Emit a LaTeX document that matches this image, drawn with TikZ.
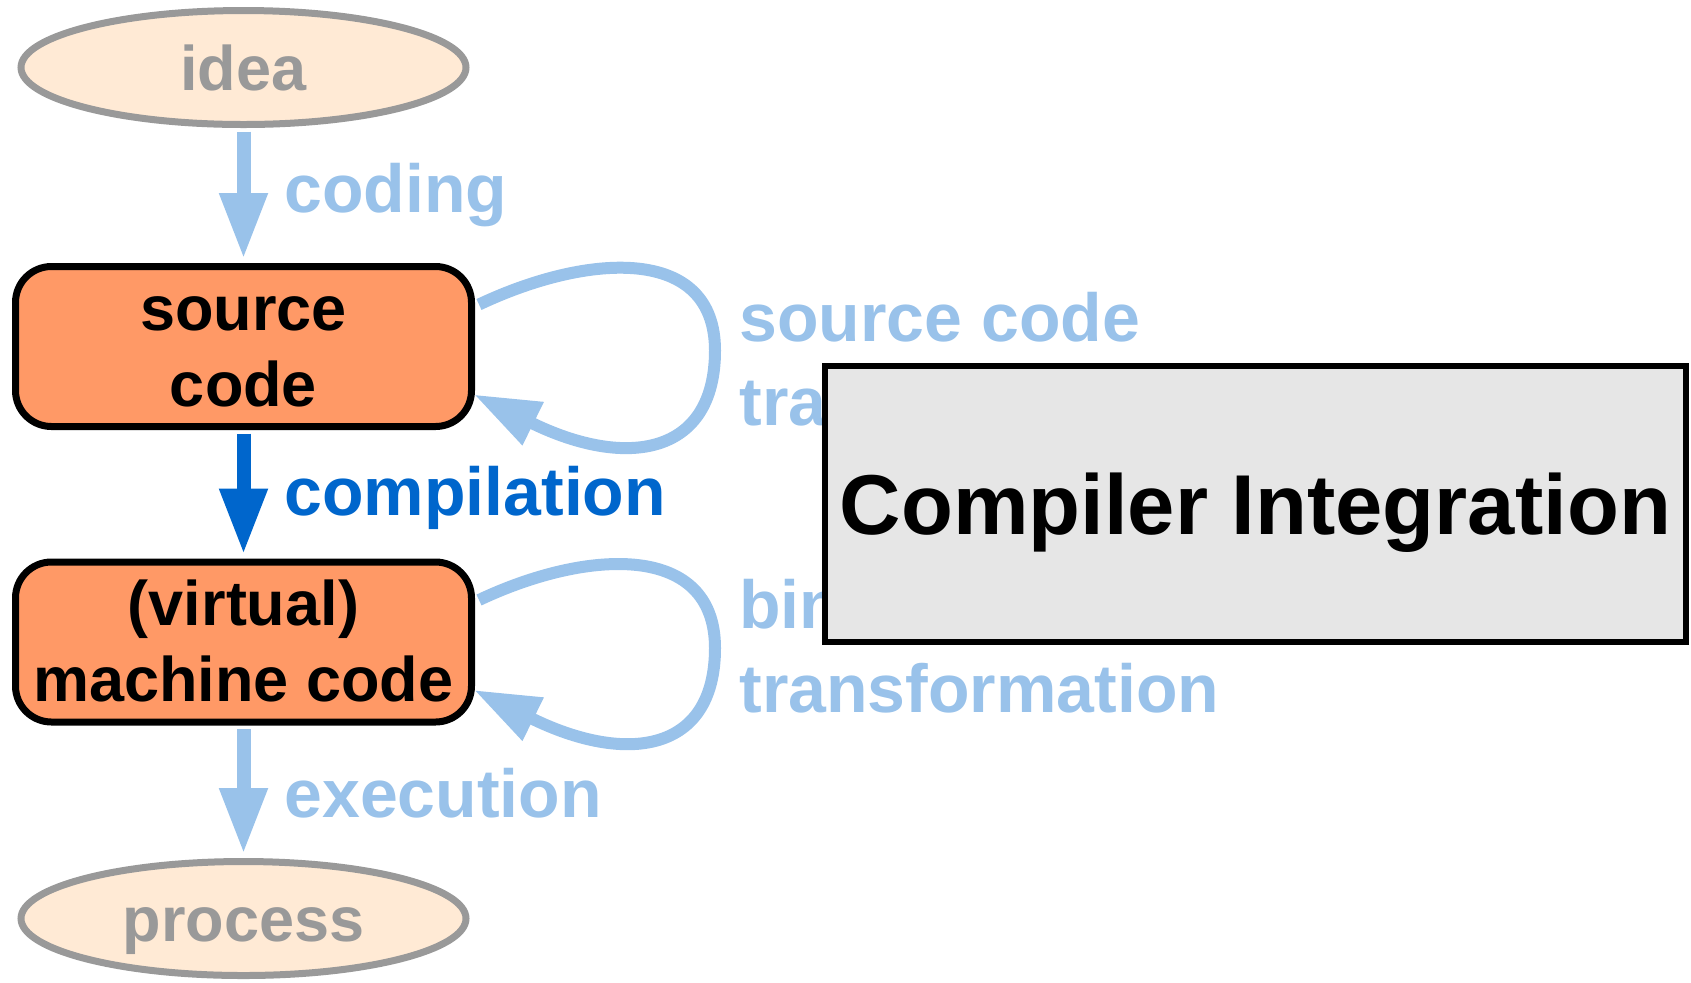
\documentclass[tikz,border=0pt]{standalone}
\usepackage{fontspec}
\setmainfont{Liberation Sans}
\usetikzlibrary{arrows.meta,shapes.geometric,calc}

\definecolor{flowlight}{RGB}{153,194,234}
\definecolor{flowdark}{RGB}{0,102,204}
\definecolor{codefill}{RGB}{255,153,102}
\definecolor{endfill}{RGB}{255,234,213}
\definecolor{endgray}{RGB}{153,153,153}
\definecolor{panelgray}{RGB}{230,230,230}

\tikzset{
  endpoint/.style={ellipse, draw=endgray, fill=endfill, line width=3.5pt,
    minimum width=222.5pt, minimum height=57pt, inner sep=0pt,
    text=endgray, font=\fontsize{31.5}{38}\selectfont\bfseries,
    text height=23pt, text depth=0pt},
  codebox/.style={rectangle, rounded corners=18pt, draw=black, fill=codefill,
    line width=3.5pt, minimum width=228pt, minimum height=80pt, inner sep=0pt,
    font=\fontsize{31.5}{38}\selectfont\bfseries,
    text height=59.5pt, text depth=0pt},
  panel/.style={rectangle, draw=black, fill=panelgray, line width=3pt,
    minimum width=430.5pt, minimum height=138pt, inner sep=0pt,
    font=\fontsize{42.5}{50}\selectfont\bfseries,
    text height=30.4pt, text depth=0pt},
  flowlabel/.style={inner sep=0pt, anchor=base west,
    font=\fontsize{34}{42}\selectfont\bfseries},
  tipshape/.style={-{Triangle[width=22.5pt,length=33pt]}},
  lightarrow/.style={tipshape, draw=flowlight, line width=7pt,
    shorten >=2pt, shorten <=1.75pt},
  darkarrow/.style={tipshape, draw=flowdark, line width=7pt,
    shorten >=2pt, shorten <=1.75pt},
  looparrow/.style={tipshape, draw=flowlight, line width=6pt},
}

\begin{document}
\begin{tikzpicture}[x=0.5pt,y=-0.5pt]
  \useasboundingbox (0,0) rectangle (1691,982);

  % main chain
  \node[endpoint] (idea) at (243.5,67.5) {idea};
  \node[codebox] (sc) at (243.5,346.5)
    {\begin{tabular}[b]{@{}c@{}}source\\code\end{tabular}};
  \node[codebox] (mc) at (243.5,642)
    {\begin{tabular}[b]{@{}c@{}}(virtual)\\machine code\end{tabular}};
  \node[endpoint] (proc) at (243.5,918.5) {process};

  \draw[lightarrow] (idea.south) -- (sc.north);
  \draw[darkarrow] (sc.south) -- (mc.north);
  \draw[lightarrow] (mc.south) -- (proc.north);

  % self loops
  \draw[looparrow] ($(sc.east)+(4,-42)$)
    .. controls +(110,-52) and +(0,-105) .. ($(sc.east)+(240,4)$)
    .. controls +(0,105) and +(152,75) .. ($(sc.east)+(-1,48)$);
  \draw[looparrow] ($(mc.east)+(4,-42)$)
    .. controls +(110,-52) and +(0,-105) .. ($(mc.east)+(240,6)$)
    .. controls +(0,105) and +(152,75) .. ($(mc.east)+(-1,48)$);

  % edge labels
  \node[flowlabel, text=flowlight] (lcoding) at (284,212) {coding};
  \node[flowlabel, text=flowdark] (lcomp) at (284,515) {compilation};
  \node[flowlabel, text=flowlight] (lexec) at (284,817) {execution};
  \node[flowlabel, text=flowlight] (lsrc) at (739,341)
    {\begin{tabular}[t]{@{}l@{}}source code\\transformation\end{tabular}};
  \node[flowlabel, text=flowlight] (lbin) at (739,628)
    {\begin{tabular}[t]{@{}l@{}}binary\\transformation\end{tabular}};

  % overlay panel
  \node[panel] (ci) at (1255.5,504) {Compiler Integration};
\end{tikzpicture}
\end{document}
